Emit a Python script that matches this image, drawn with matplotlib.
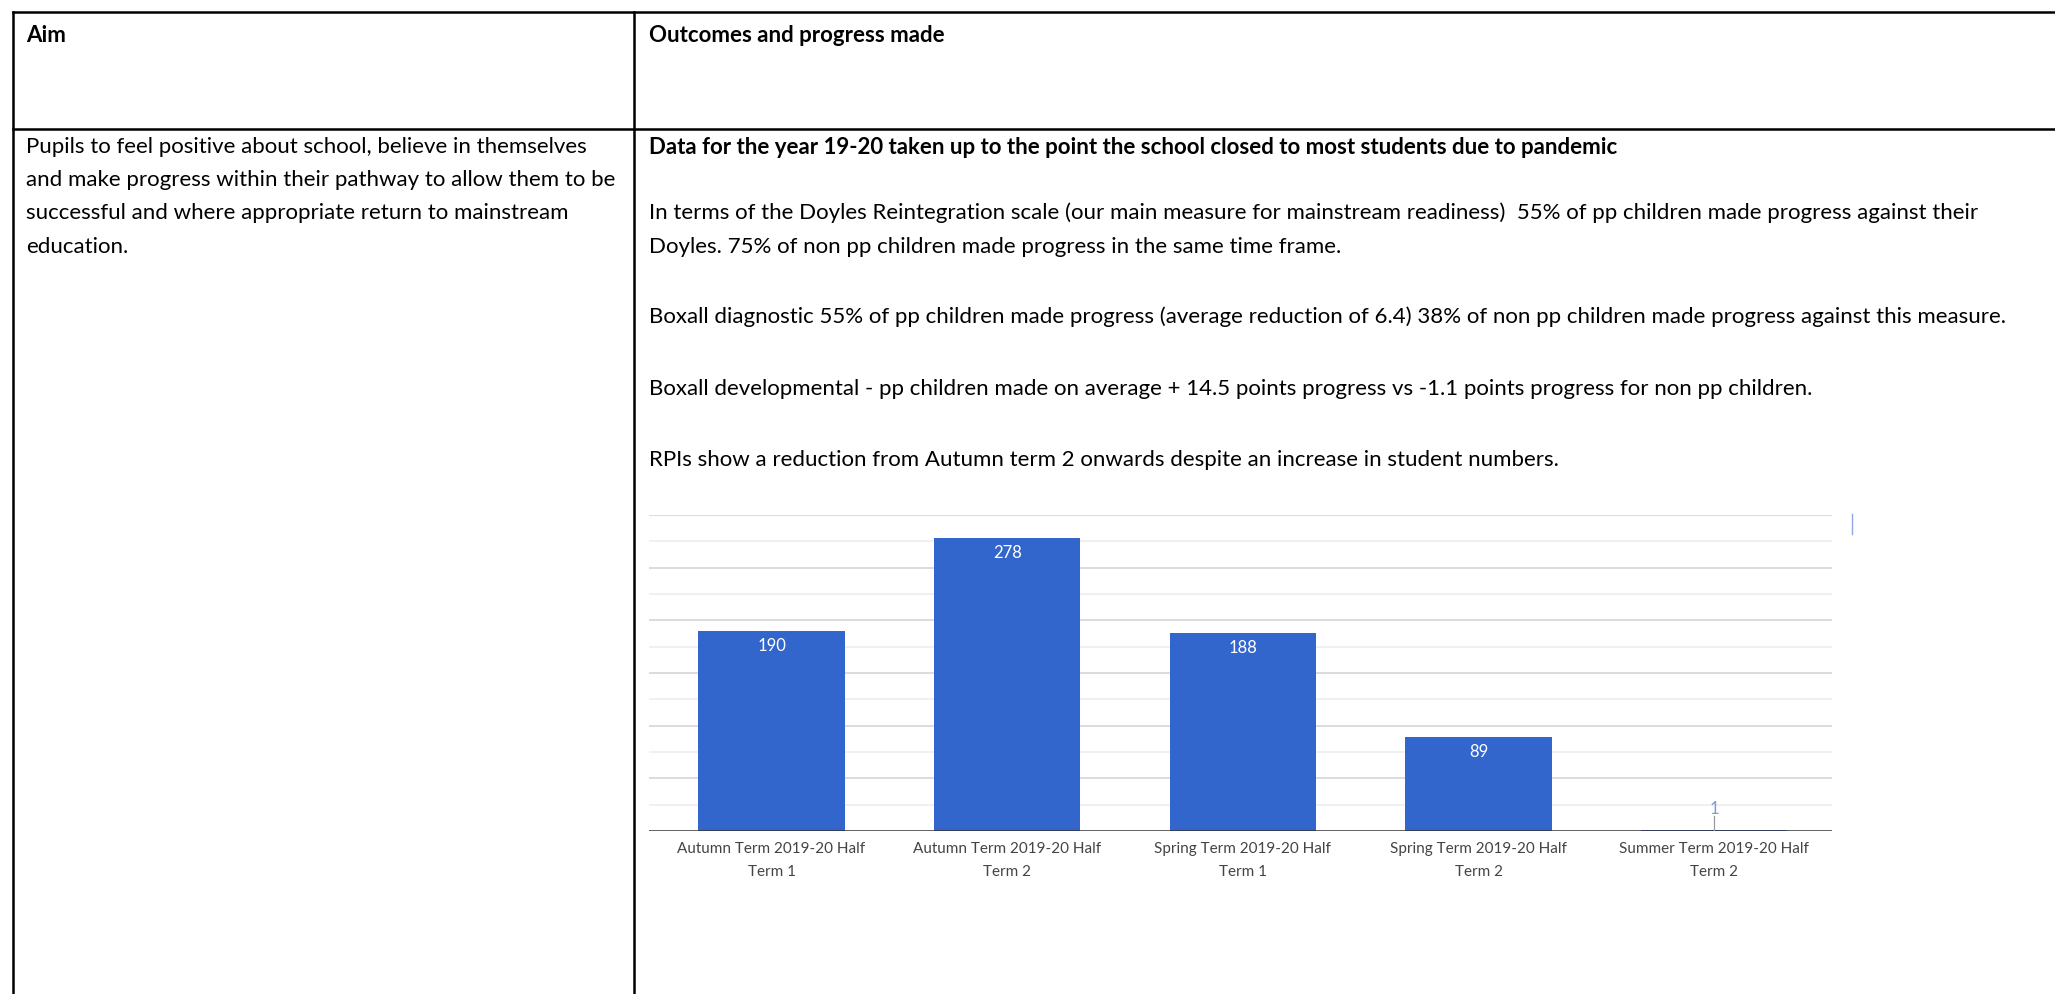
import matplotlib
matplotlib.use("Agg")
import matplotlib.pyplot as plt
from matplotlib.lines import Line2D

# chart data
terms = ["Autumn Term 2019-20 Half\nTerm 1",
         "Autumn Term 2019-20 Half\nTerm 2",
         "Spring Term 2019-20 Half\nTerm 1",
         "Spring Term 2019-20 Half\nTerm 2",
         "Summer Term 2019-20 Half\nTerm 2"]
rpis = [190, 278, 188, 89, 1]

# table text
aim_head = "Aim"
outcome_head = "Outcomes and progress made"
aim_lines = ["Pupils to feel positive about school, believe in themselves",
             "and make progress within their pathway to allow them to be",
             "successful and where appropriate return to mainstream",
             "education."]
data_head = "Data for the year 19-20 taken up to the point the school closed to most students due to pandemic"
para_lines = [
    "In terms of the Doyles Reintegration scale (our main measure for mainstream readiness)  55% of pp children made progress against their",
    "Doyles. 75% of non pp children made progress in the same time frame.",
    "Boxall diagnostic 55% of pp children made progress (average reduction of 6.4) 38% of non pp children made progress against this measure.",
    "Boxall developmental - pp children made on average + 14.5 points progress vs -1.1 points progress for non pp children.",
    "RPIs show a reduction from Autumn term 2 onwards despite an increase in student numbers.",
]
aim_y = [147, 180, 213, 247]
para_y = [213, 247, 317, 389, 460]

W, H = 2055, 995
fig = plt.figure(figsize=(W / 100, H / 100), dpi=100)
fig.patch.set_facecolor("white")


def fx(x):
    return x / W


def fy(y):
    return 1 - y / H


TXT = "Lato"
fs_tab = 16

# table borders
for (x0, y0, x1, y1) in [(13, 13, W, 13), (13, 130, W, 130),
                         (13, 13, 13, H), (634, 13, 634, H)]:
    fig.add_artist(Line2D([fx(x0), fx(x1)], [fy(y0), fy(y1)],
                          color="black", lw=1.8, transform=fig.transFigure))

fig.text(fx(26), fy(36), aim_head, fontsize=fs_tab, fontweight="bold",
         family=TXT, va="center", ha="left")
fig.text(fx(649), fy(36), outcome_head, fontsize=fs_tab, fontweight="bold",
         family=TXT, va="center", ha="left")
for line, y in zip(aim_lines, aim_y):
    fig.text(fx(26), fy(y), line, fontsize=fs_tab,
             family=TXT, va="center", ha="left")
fig.text(fx(649), fy(147), data_head, fontsize=fs_tab, fontweight="bold",
         family=TXT, va="center", ha="left")
for line, y in zip(para_lines, para_y):
    fig.text(fx(649), fy(y), line, fontsize=fs_tab, family=TXT,
             va="center", ha="left")

# bar chart
ax_l, ax_r, ax_b = 649, 1832, 832
ymax = 300
ax_t = ax_b - 316
ax = fig.add_axes([fx(ax_l), fy(ax_b), (ax_r - ax_l) / W, (ax_b - ax_t) / H])
x = list(range(len(rpis)))
ax.bar(x, rpis, width=0.62, color="#3366cc", zorder=3)
ax.set_xlim(-0.52, len(rpis) - 0.5)
ax.set_ylim(0, ymax)

for g in range(25, ymax + 1, 25):
    col = "#d9d9d9" if g % 50 == 0 else "#efefef"
    ax.axhline(g, color=col, lw=1.3, zorder=1)
ax.axhline(0, color="#333333", lw=1.8, zorder=4)

for xi, v in zip(x, rpis):
    if v > 30:
        ax.text(xi, v - 13, str(v), color="white", ha="center", va="center",
                fontsize=12, family=TXT, zorder=5)
    else:
        ax.plot([xi, xi], [v, v + 13], color="#999999", lw=0.9, zorder=5)
        ax.text(xi, v + 21, str(v), color="#7d9ae0", ha="center",
                va="center", fontsize=12, family=TXT, zorder=5)

ax.set_xticks(x)
ax.set_xticklabels(terms, fontsize=11, family=TXT, color="#444444",
                   linespacing=1.75)
ax.tick_params(axis="x", length=0, pad=7.5)
ax.set_yticks([])
for s in ax.spines.values():
    s.set_visible(False)

# small stray marker at the chart's top right
fig.add_artist(Line2D([fx(1852), fx(1852)], [fy(515), fy(535)],
                      color="#8fa8e6", lw=1, transform=fig.transFigure))

fig.savefig("out.png", dpi=100, facecolor="white")
